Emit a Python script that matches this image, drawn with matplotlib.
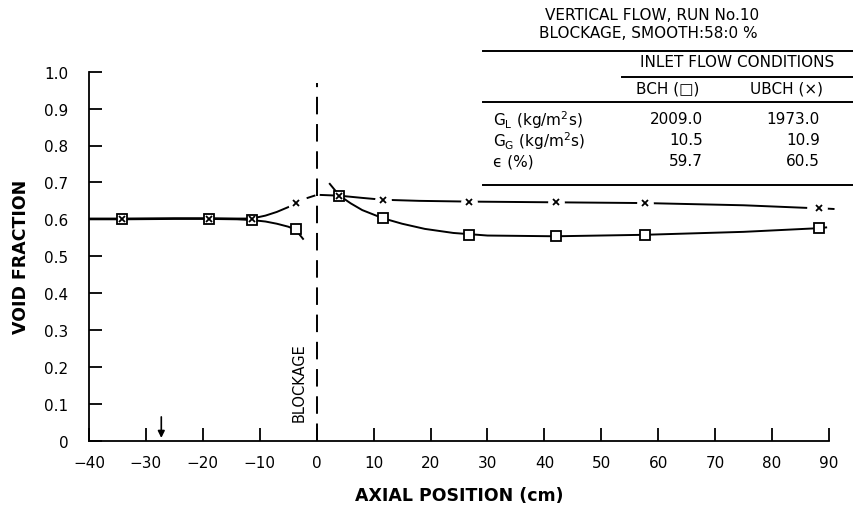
import matplotlib
matplotlib.use("Agg")
import matplotlib.pyplot as plt
from matplotlib.lines import Line2D

# measured points (cm, void fraction)
bch_x = [-34.2, -19.0, -11.4, -3.7, 4.0, 11.6, 26.7, 42.1, 57.6, 88.3]
bch_y = [0.600, 0.601, 0.598, 0.574, 0.664, 0.603, 0.557, 0.556, 0.558, 0.576]
ubch_x = [-34.2, -19.0, -11.4, -3.7, 4.0, 11.6, 26.7, 42.1, 57.6, 88.3]
ubch_y = [0.600, 0.602, 0.600, 0.644, 0.664, 0.653, 0.648, 0.646, 0.644, 0.630]

# hand-drawn fit curves
bch_fit_left_x = [-40, -34, -25, -19, -14, -11.4, -9, -7, -5, -3.7, -2.4]
bch_fit_left_y = [0.600, 0.600, 0.601, 0.601, 0.600, 0.598, 0.594, 0.588, 0.580, 0.572, 0.547]
bch_fit_right_x = [2.3, 4.0, 6, 8, 11.6, 15, 19, 24, 30, 42, 57.6, 75, 88.3, 89.5]
bch_fit_right_y = [0.696, 0.664, 0.643, 0.625, 0.603, 0.588, 0.574, 0.563, 0.556, 0.554, 0.558, 0.566, 0.576, 0.578]
ubch_fit_left_x = [-40, -34, -25, -19, -14, -11.4, -9, -7, -5, -3.7]
ubch_fit_left_y = [0.602, 0.602, 0.603, 0.603, 0.602, 0.602, 0.610, 0.620, 0.633, 0.643]
ubch_fit_dash_x = [-1.6, -0.4]
ubch_fit_dash_y = [0.658, 0.664]
ubch_fit_right_x = [0.7, 4.0, 8, 11.6, 18, 26.7, 42.1, 57.6, 75, 86.0]
ubch_fit_right_y = [0.666, 0.664, 0.658, 0.653, 0.650, 0.648, 0.646, 0.644, 0.638, 0.631]
ubch_tail_x = [89.6, 90.8]
ubch_tail_y = [0.629, 0.628]

x_ticks = list(range(-40, 100, 10))
y_ticks = [0.0, 0.1, 0.2, 0.3, 0.4, 0.5, 0.6, 0.7, 0.8, 0.9, 1.0]
y_labels = ["0", "0.1", "0.2", "0.3", "0.4", "0.5", "0.6", "0.7", "0.8", "0.9", "1.0"]

table_rows = ["G$_{\\rm L}$ (kg/m$^2$s)", "G$_{\\rm G}$ (kg/m$^2$s)", "\u03f5 (%)"]
bch_vals = ["2009.0", "10.5", "59.7"]
ubch_vals = ["1973.0", "10.9", "60.5"]

W, H = 854, 506
fig = plt.figure(figsize=(W / 100, H / 100), dpi=100)
ax = fig.add_axes([89 / W, 1 - 441.7 / H, (829 - 89) / W, (441.7 - 72.7) / H])


def px(x, y):
    return x / W, 1 - y / H


lw = 1.4
ax.plot(bch_fit_left_x, bch_fit_left_y, color="black", lw=lw)
ax.plot(bch_fit_right_x, bch_fit_right_y, color="black", lw=lw)
ax.plot(ubch_fit_left_x, ubch_fit_left_y, color="black", lw=lw)
ax.plot(ubch_fit_dash_x, ubch_fit_dash_y, color="black", lw=lw)
ax.plot(ubch_fit_right_x, ubch_fit_right_y, color="black", lw=lw)
ax.plot(ubch_tail_x, ubch_tail_y, color="black", lw=lw, clip_on=False)

# white gaps around the lone x markers
lone = [i for i in range(len(ubch_x)) if abs(ubch_y[i] - bch_y[i]) > 0.01]
ax.plot([ubch_x[i] for i in lone], [ubch_y[i] for i in lone], linestyle="none",
        marker="o", markersize=11, markerfacecolor="white", markeredgecolor="white")
ax.plot(bch_x, bch_y, linestyle="none", marker="s", markersize=6.5,
        markerfacecolor="white", markeredgecolor="black", markeredgewidth=1.3)
ax.plot(ubch_x, ubch_y, linestyle="none", marker="x", markersize=4.5,
        color="black", markeredgewidth=1.3)

# blockage line and label
ax.plot([0, 0], [0, 0.97], color="black", lw=lw, linestyle=(0, (9, 5)))
ax.text(-3.0, 0.16, "BLOCKAGE", rotation=90, ha="center", va="center", fontsize=10.5)

# arrow near -27
ax.annotate("", xy=(-27.3, 0.0), xytext=(-27.3, 0.072),
            arrowprops=dict(arrowstyle="-|>", color="black", lw=1.2, mutation_scale=10))

ax.set_xlim(-40, 90)
ax.set_ylim(0, 1.0)
ax.set_xticks(x_ticks)
ax.set_xticklabels([str(t).replace("-", "\u2212") for t in x_ticks])
ax.set_yticks(y_ticks)
ax.set_yticklabels(y_labels)
ax.tick_params(direction="in", length=9.5, width=1.3, labelsize=11)
ax.tick_params(axis="y", pad=15)
ax.tick_params(axis="x", pad=10)
for s in ["top", "right"]:
    ax.spines[s].set_visible(False)
for s in ["left", "bottom"]:
    ax.spines[s].set_linewidth(1.3)
ax.set_xlabel("AXIAL POSITION (cm)", fontsize=12.5, fontweight="bold", labelpad=12)
ax.set_ylabel("VOID FRACTION", fontsize=12.5, fontweight="bold", labelpad=10)

# header and table
fs = 11
fig.text(*px(652, 15), "VERTICAL FLOW, RUN No.10", ha="center", va="center", fontsize=fs)
fig.text(*px(648, 34), "BLOCKAGE, SMOOTH:58:0 %", ha="center", va="center", fontsize=fs)
for y0, x0 in [(52, 483), (78, 622), (103, 483), (186, 483)]:
    fig.add_artist(Line2D([x0 / W, 1.0], [1 - y0 / H, 1 - y0 / H], color="black", lw=lw))
fig.text(*px(737, 63), "INLET FLOW CONDITIONS", ha="center", va="center", fontsize=fs)
fig.text(*px(668, 89), "BCH (\u25a1)", ha="center", va="center", fontsize=fs)
fig.text(*px(787, 89), "UBCH (\u00d7)", ha="center", va="center", fontsize=fs)
for i, row in enumerate(table_rows):
    yy = [120, 141, 162][i]
    fig.text(*px(493, yy), row, ha="left", va="center", fontsize=fs)
    fig.text(*px(703, yy), bch_vals[i], ha="right", va="center", fontsize=fs)
    fig.text(*px(820, yy), ubch_vals[i], ha="right", va="center", fontsize=fs)

fig.savefig("out.png", dpi=100)
